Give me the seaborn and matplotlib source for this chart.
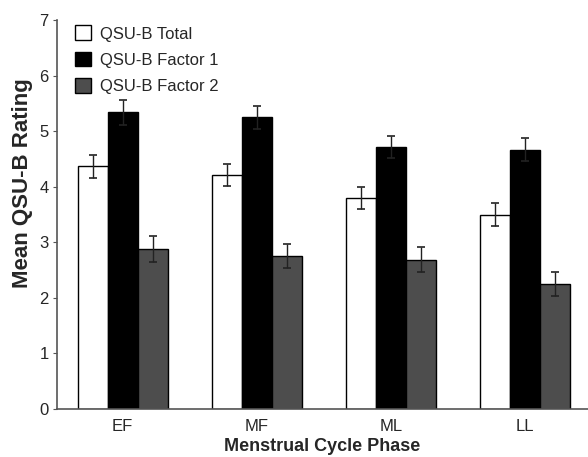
import pandas as pd
import numpy as np
import matplotlib.pyplot as plt
import seaborn as sns

# -----------------------------
# Data
# -----------------------------
phases = ["EF", "MF", "ML", "LL"]
measures = ["QSU-B Total", "QSU-B Factor 1", "QSU-B Factor 2"]

total_mean = [4.37, 4.21, 3.80, 3.50]
factor1_mean = [5.34, 5.25, 4.72, 4.67]
factor2_mean = [2.88, 2.75, 2.69, 2.25]

total_err = [0.21, 0.20, 0.20, 0.20]
factor1_err = [0.22, 0.21, 0.20, 0.21]
factor2_err = [0.23, 0.22, 0.22, 0.21]

means = [total_mean, factor1_mean, factor2_mean]
errs = [total_err, factor1_err, factor2_err]

df = pd.DataFrame({
    "Phase": phases * 3,
    "Measure": np.repeat(measures, len(phases)),
    "Rating": total_mean + factor1_mean + factor2_mean,
})

sns.set_style("ticks")
plt.rcParams["font.family"] = ["Liberation Sans", "DejaVu Sans"]

fig = plt.figure(figsize=(5.88, 4.57), dpi=100)
ax = fig.add_axes([0.097, 0.105, 0.903, 0.851])

sns.barplot(data=df, x="Phase", y="Rating", hue="Measure",
            order=phases, hue_order=measures,
            palette=["white", "black", "#4d4d4d"],
            edgecolor="black", linewidth=1, width=0.67,
            errorbar=None, ax=ax)

# error bars on top of the bars
for cont, err in zip(ax.containers, errs):
    xs = [b.get_x() + b.get_width() / 2 for b in cont]
    ys = [b.get_height() for b in cont]
    ax.errorbar(xs, ys, yerr=err, fmt="none", ecolor="#222222",
                elinewidth=1, capsize=3, capthick=1.2)

ax.set_ylim(0, 7)
ax.set_xlim(-0.49, 3.47)
ax.set_yticks(range(8))
ax.set_xlabel("Menstrual Cycle Phase", fontsize=13, fontweight="bold", labelpad=3)
ax.set_ylabel("Mean QSU-B Rating", fontsize=16, fontweight="bold")
ax.yaxis.set_label_coords(-0.045, 0.58)
ax.tick_params(axis="y", labelsize=12, length=3, color="#555555", pad=3)
ax.tick_params(axis="x", labelsize=12, length=0, pad=7)
sns.despine(ax=ax)
for s in ["left", "bottom"]:
    ax.spines[s].set_color("#555555")
    ax.spines[s].set_linewidth(1.2)

leg = ax.legend(loc="upper left", bbox_to_anchor=(0.005, 1.025), frameon=False,
                fontsize=12, handlelength=1.0, handleheight=1.0,
                labelspacing=0.6, handletextpad=0.5)

plt.savefig("out.png", dpi=100)
